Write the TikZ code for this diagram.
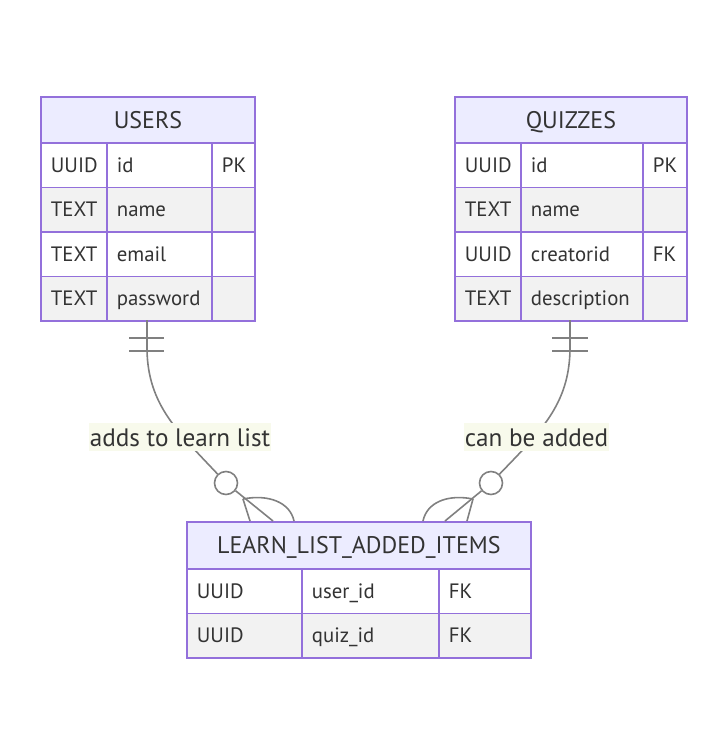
\documentclass[tikz,border=0pt]{standalone}
\usepackage{fontspec}
\setmainfont{PT Sans}
\definecolor{erpurple}{RGB}{147,112,219}
\definecolor{erhead}{RGB}{236,236,255}
\definecolor{errow}{RGB}{242,242,242}
\definecolor{ertext}{RGB}{51,51,51}
\definecolor{erline}{RGB}{128,128,128}
\definecolor{erlabel}{RGB}{248,250,236}
\newcommand\errowfont{\fontsize{20.8}{24}\selectfont}
\newcommand\erheadfont{\fontsize{24}{28}\selectfont}
\newcommand\erlabelfont{\fontsize{25.2}{29}\selectfont}
\tikzset{
  cell/.style={draw=erpurple, line width=1.8, anchor=north west, inner xsep=10, inner ysep=0, align=left, text=ertext, font=\errowfont, fill=white, text height=14.6, text depth=0},
  headcell/.style={draw=erpurple, line width=1.8, anchor=north west, inner sep=0, align=center, text=ertext, font=\erheadfont, fill=erhead, text height=16.8, text depth=0},
  grayrow/.style={fill=errow},
  rel/.style={draw=erline, line width=1.6},
  relcircle/.style={circle, draw=erline, line width=1.6, fill=white, minimum size=23, inner sep=0},
  rellabel/.style={fill=erlabel, text=ertext, font=\erlabelfont, inner xsep=1, inner ysep=0, minimum height=28, text height=18, text depth=0},
}
\begin{document}
\begin{tikzpicture}[x=1pt,y=-1pt]
\useasboundingbox (0,0) rectangle (726,753);
% ---------- USERS ----------
\node[headcell, minimum width=214, minimum height=46] (users) at (40,96) {USERS};
\node[cell, text width=46, minimum height=44.5] (u11) at (40,142) {UUID};
\node[cell, text width=85, minimum height=44.5] (u12) at (106,142) {id};
\node[cell, text width=23, minimum height=44.5] (u13) at (211,142) {PK};
\node[cell, grayrow, text width=46, minimum height=44.5] (u21) at (40,186.5) {TEXT};
\node[cell, grayrow, text width=85, minimum height=44.5] (u22) at (106,186.5) {name};
\node[cell, grayrow, text width=23, minimum height=44.5] (u23) at (211,186.5) {};
\node[cell, text width=46, minimum height=44.5] (u31) at (40,231) {TEXT};
\node[cell, text width=85, minimum height=44.5] (u32) at (106,231) {email};
\node[cell, text width=23, minimum height=44.5] (u33) at (211,231) {};
\node[cell, grayrow, text width=46, minimum height=44.5] (u41) at (40,275.5) {TEXT};
\node[cell, grayrow, text width=85, minimum height=44.5] (u42) at (106,275.5) {password};
\node[cell, grayrow, text width=23, minimum height=44.5] (u43) at (211,275.5) {};
% ---------- QUIZZES ----------
\node[headcell, minimum width=232, minimum height=46] (quizzes) at (454,96) {QUIZZES};
\node[cell, text width=46, minimum height=44.5] (q11) at (454,142) {UUID};
\node[cell, text width=102, minimum height=44.5] (q12) at (520,142) {id};
\node[cell, text width=24, minimum height=44.5] (q13) at (642,142) {PK};
\node[cell, grayrow, text width=46, minimum height=44.5] (q21) at (454,186.5) {TEXT};
\node[cell, grayrow, text width=102, minimum height=44.5] (q22) at (520,186.5) {name};
\node[cell, grayrow, text width=24, minimum height=44.5] (q23) at (642,186.5) {};
\node[cell, text width=46, minimum height=44.5] (q31) at (454,231) {UUID};
\node[cell, text width=102, minimum height=44.5] (q32) at (520,231) {creatorid};
\node[cell, text width=24, minimum height=44.5] (q33) at (642,231) {FK};
\node[cell, grayrow, text width=46, minimum height=44.5] (q41) at (454,275.5) {TEXT};
\node[cell, grayrow, text width=102, minimum height=44.5] (q42) at (520,275.5) {description};
\node[cell, grayrow, text width=24, minimum height=44.5] (q43) at (642,275.5) {};
% ---------- LEARN_LIST_ADDED_ITEMS ----------
\node[headcell, minimum width=344, minimum height=47] (learn) at (186,521) {LEARN\_LIST\_ADDED\_ITEMS};
\node[cell, text width=95, minimum height=44.5] (l11) at (186,568) {UUID};
\node[cell, text width=117, minimum height=44.5] (l12) at (301,568) {user\_id};
\node[cell, text width=72, minimum height=44.5] (l13) at (438,568) {FK};
\node[cell, grayrow, text width=95, minimum height=44.5] (l21) at (186,612.5) {UUID};
\node[cell, grayrow, text width=117, minimum height=44.5] (l22) at (301,612.5) {quiz\_id};
\node[cell, grayrow, text width=72, minimum height=44.5] (l23) at (438,612.5) {FK};
% ---------- relationship USERS -> LEARN ----------
\coordinate (ua) at (147,320);
\node[relcircle] (uc) at (226,483) {};
\coordinate (uf) at (243,499);
\coordinate (ue) at (273,521);
\draw[rel] (ua) -- (147,350) .. controls (148,405) and (178,432) .. (uc);
\draw[rel] (uc) -- (ue);
\draw[rel] (uf) -- (250,521);
\draw[rel] (uf) .. controls (268,494) and (290,502) .. (294,521);
\draw[rel] (129,338) -- (164,338);
\draw[rel] (129,351) -- (164,351);
\node[rellabel] (lab1) at (180,437) {adds to learn list};
% ---------- relationship QUIZZES -> LEARN ----------
\coordinate (qa) at (570,320);
\node[relcircle] (qc) at (491,483) {};
\coordinate (qf) at (473,499);
\coordinate (qe) at (445,521);
\draw[rel] (qa) -- (570,350) .. controls (569,405) and (540,432) .. (qc);
\draw[rel] (qc) -- (qe);
\draw[rel] (qf) -- (467,521);
\draw[rel] (qf) .. controls (448,494) and (427,502) .. (423,521);
\draw[rel] (552,338) -- (588,338);
\draw[rel] (552,351) -- (588,351);
\node[rellabel] (lab2) at (536.5,437) {can be added};
\end{tikzpicture}
\end{document}
